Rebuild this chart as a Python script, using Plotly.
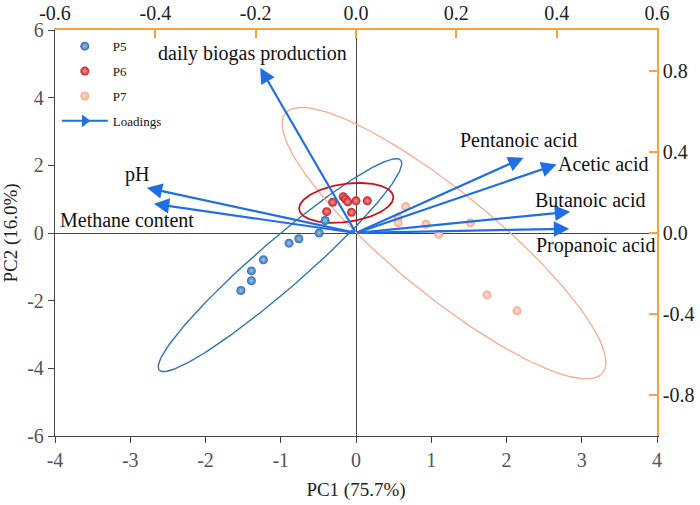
import numpy as np
import plotly.graph_objects as go

# ---------------- data ----------------
p5_pc1 = [-0.41, -0.49, -0.76, -0.89, -1.23, -1.39, -1.39, -1.53]
p5_pc2 = [0.37, 0.00, -0.17, -0.30, -0.79, -1.12, -1.41, -1.70]
p6_pc1 = [-0.31, -0.17, -0.14, -0.11, 0.00, 0.15, -0.39, -0.06]
p6_pc2 = [0.91, 1.07, 1.00, 0.92, 0.95, 0.95, 0.63, 0.61]
p7_pc1 = [0.66, 0.56, 0.56, 0.93, 1.10, 1.52, 1.74, 2.14]
p7_pc2 = [0.78, 0.45, 0.30, 0.26, -0.04, 0.30, -1.83, -2.30]

variables = ["daily biogas production", "pH", "Methane content", "Pentanoic acid",
             "Acetic acid", "Butanoic acid", "Propanoic acid"]
load_pc1 = [-0.191, -0.417, -0.403, 0.334, 0.400, 0.427, 0.425]
load_pc2 = [0.814, 0.223, 0.144, 0.371, 0.338, 0.105, 0.021]

# confidence ellipses: centre (pc1, pc2) and the two semi-axis vectors in PC units
ell_p5 = [-1.01, -0.95, 1.605, 3.10, -0.209, 0.536]
ell_p6 = [-0.13, 0.89, 0.625, 0.195, -0.035, 0.556]
ell_p7 = [1.17, -0.30, 2.108, -3.837, 0.43, 1.17]

x_ticks = [-4, -3, -2, -1, 0, 1, 2, 3, 4]
x_ticktext = ["-4", "-3", "-2", "-1", "0", "1", "2", "3", "4"]
y_ticks = [-6, -4, -2, 0, 2, 4, 6]
y_ticktext = ["-6", "-4", "-2", "0", "2", "4", "6"]
x2_ticks = [-0.6, -0.4, -0.2, 0.0, 0.2, 0.4, 0.6]
x2_ticktext = ["-0.6", "-0.4", "-0.2", "0.0", "0.2", "0.4", "0.6"]
y2_ticks = [-0.8, -0.4, 0.0, 0.4, 0.8]
y2_ticktext = ["-0.8", "-0.4", "0.0", "0.4", "0.8"]

# ---------------- styling ----------------
FONT = "Liberation Serif, Times New Roman, serif"
C_P5, C_P6, C_P7 = "#2F6DB0", "#C81E24", "#F6A88C"
C_E5, C_E6, C_E7 = "#2E75B6", "#C8141E", "#F7AC90"
C_ARROW = "#1F6FE3"
C_ORANGE = "#F9A23C"
C_AXIS = "#444444"
label_dx = [-8, -10, -27, -5, 47, 20, 26]
label_dy = [14, 13, -16, 18, 0, 12, -17]

fig = go.Figure()

t = np.linspace(0, 2 * np.pi, 240)
for ell, col, w in [(ell_p5, C_E5, 1.4), (ell_p7, C_E7, 1.3), (ell_p6, C_E6, 1.8)]:
    cx, cy, ux, uy, vx, vy = ell
    fig.add_trace(go.Scatter(x=cx + ux * np.cos(t) + vx * np.sin(t),
                             y=cy + uy * np.cos(t) + vy * np.sin(t),
                             mode="lines", line=dict(color=col, width=w),
                             showlegend=False, hoverinfo="skip"))

for name, xs, ys, col, light in [("P5", p5_pc1, p5_pc2, C_P5, "#9CC6F0"),
                                 ("P6", p6_pc1, p6_pc2, C_P6, "#F39A9A"),
                                 ("P7", p7_pc1, p7_pc2, C_P7, "#FDE3D8")]:
    fig.add_trace(go.Scatter(x=xs, y=ys, mode="markers", name=name, legendgroup=name,
                             marker=dict(size=9, color=col,
                                         gradient=dict(type="radial", color=light),
                                         line=dict(width=0))))

fig.add_trace(go.Scatter(x=[None], y=[None], xaxis="x2", yaxis="y2", mode="lines+markers",
                         name="Loadings", legendgroup="Loadings",
                         line=dict(color=C_ARROW, width=2),
                         marker=dict(symbol="triangle-right", size=11, color=C_ARROW)))

annotations = []
for v, lx, ly, dx, dy in zip(variables, load_pc1, load_pc2, label_dx, label_dy):
    annotations.append(dict(x=lx, y=ly, ax=0, ay=0, xref="x2", yref="y2",
                            axref="x2", ayref="y2", text="", showarrow=True,
                            arrowhead=2, arrowsize=1.4, arrowwidth=2.2,
                            arrowcolor=C_ARROW, standoff=0, startstandoff=0))
    annotations.append(dict(x=lx, y=ly, xref="x2", yref="y2", text=v, showarrow=False,
                            xshift=dx, yshift=dy, xanchor="center", yanchor="middle",
                            font=dict(family=FONT, size=20, color="#111111")))

tick_gray = dict(family=FONT, size=20, color="#555555")
tick_dark = dict(family=FONT, size=20, color="#222222")
title_font = dict(family=FONT, size=19, color="#222222")

fig.update_layout(
    width=700, height=505,
    margin=dict(l=55, r=43, t=30, b=69, autoexpand=False),
    paper_bgcolor="white", plot_bgcolor="white",
    font=dict(family=FONT, size=18, color="#555555"),
    annotations=annotations,
    showlegend=True,
    legend=dict(x=0.003, y=0.997, xanchor="left", yanchor="top",
                bgcolor="rgba(0,0,0,0)", font=dict(family=FONT, size=13, color="#111111"),
                tracegroupgap=5, itemwidth=46, traceorder="grouped"),
    xaxis=dict(range=[-4, 4], tickvals=x_ticks, ticktext=x_ticktext, automargin=False,
               showgrid=False, zeroline=True, zerolinecolor=C_AXIS, zerolinewidth=1.3,
               showline=True, linecolor=C_AXIS, linewidth=1.3,
               ticks="outside", ticklen=6, tickcolor=C_AXIS,
               tickfont=tick_gray,
               title=dict(text="PC1 (75.7%)", font=title_font, standoff=12)),
    yaxis=dict(range=[-6, 6], tickvals=y_ticks, ticktext=y_ticktext, automargin=False,
               showgrid=False, zeroline=True, zerolinecolor=C_AXIS, zerolinewidth=1.3,
               showline=True, linecolor=C_AXIS, linewidth=1.3,
               ticks="outside", ticklen=6, tickcolor=C_AXIS,
               tickfont=tick_gray,
               title=dict(text="PC2 (16.0%)", font=title_font, standoff=4)),
    xaxis2=dict(range=[-0.6, 0.6], overlaying="x", side="top", anchor="y", automargin=False,
                tickvals=x2_ticks, ticktext=x2_ticktext,
                showgrid=False, zeroline=False, showline=True, linecolor=C_ORANGE, linewidth=1.5,
                ticks="inside", ticklen=8, tickcolor=C_ORANGE, tickwidth=1.5,
                tickfont=tick_dark),
    yaxis2=dict(range=[-1, 1], overlaying="y", side="right", anchor="x", automargin=False,
                tickvals=y2_ticks, ticktext=y2_ticktext,
                showgrid=False, zeroline=False, showline=True, linecolor=C_ORANGE, linewidth=1.5,
                ticks="inside", ticklen=8, tickcolor=C_ORANGE, tickwidth=1.5,
                tickfont=tick_dark),
)

fig.write_html("out.html")
